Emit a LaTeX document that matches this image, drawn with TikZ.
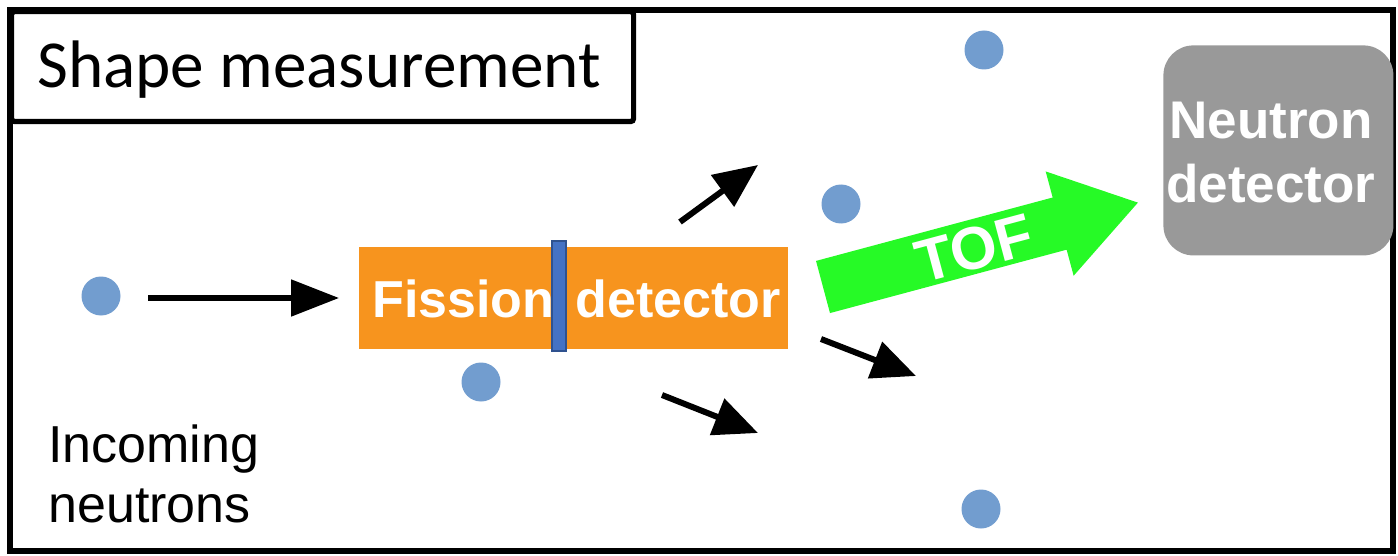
\documentclass[tikz,border=0pt]{standalone}
\usepackage{fontspec}
\setmainfont{Liberation Sans}
\newfontfamily\titlefont{Carlito}
\usetikzlibrary{arrows.meta}
\definecolor{dotblue}{RGB}{114,157,207}
\definecolor{fisorange}{RGB}{247,148,30}
\definecolor{barblue}{RGB}{68,114,196}
\definecolor{baredge}{RGB}{47,82,143}
\definecolor{tofgreen}{RGB}{38,250,38}
\definecolor{detgray}{RGB}{153,153,153}
\begin{document}
\begin{tikzpicture}[x=0.5pt,y=-0.5pt,
  neutron/.style={circle,fill=dotblue,inner sep=0pt,minimum size=19.5pt},
  flyarrow/.style={line width=3pt,-{Triangle[length=22pt,width=19pt]}},
  inarrow/.style={line width=2.6pt,-{Triangle[length=24pt,width=18pt]}},
  whitebold/.style={text=white,font=\bfseries}]
\useasboundingbox (0,0) rectangle (1398,556);

% outer frame and title box
\draw[line width=2.6pt] (10,10) rectangle (1393,551);
\node[draw,line width=2.6pt,rounded corners=1.5pt,fill=white,anchor=north west,
      minimum width=311pt,minimum height=55pt,inner sep=0pt] (title) at (9,9) {};
\node[anchor=base west,inner sep=0pt,font=\titlefont\fontsize{33.6}{40}\selectfont]
  (titletext) at (37,88) {Shape measurement};

% neutrons
\node[neutron] (n1) at (101,296) {};
\node[neutron] (n2) at (984,50) {};
\node[neutron] (n3) at (841,204) {};
\node[neutron] (n4) at (481,382) {};
\node[neutron] (n5) at (981,509) {};

% fission detector with target foil
\node[fill=fisorange,minimum width=214.5pt,minimum height=51pt,inner sep=0pt,
      anchor=north west] (fis) at (359,247) {};
\node[whitebold,anchor=base west,inner sep=0pt,font=\bfseries\fontsize{26}{30}\selectfont]
  (fistext1) at (372,317) {Fission};
\node[whitebold,anchor=base west,inner sep=0pt,font=\bfseries\fontsize{26}{30}\selectfont]
  (fistext2) at (575,317) {detector};
\node[fill=barblue,draw=baredge,line width=1pt,minimum width=7pt,minimum height=55pt,
      inner sep=0pt] (foil) at (559,296) {};

% neutron detector
\node[fill=detgray,rounded corners=15pt,minimum width=115pt,minimum height=105pt,
      inner sep=0pt,anchor=north west] (ndet) at (1163,45) {};
\node[whitebold,align=center,inner sep=0pt,font=\bfseries\fontsize{26.5}{32}\selectfont]
  (ndettext) at (1271,153) {Neutron\\detector};

% incoming label
\node[anchor=base west,inner sep=0pt,align=left,font=\fontsize{26}{30}\selectfont]
  (inlabel) at (48,522) {Incoming\\neutrons};

% incoming beam arrow
\coordinate (inA) at (148,298);
\coordinate (inB) at (339,298);
\draw[inarrow] (inA) -- (inB);

% emitted fission neutrons
\coordinate (f1a) at (680,222);
\coordinate (f1b) at (758,165);
\coordinate (f2a) at (821,339);
\coordinate (f2b) at (916,376);
\coordinate (f3a) at (662,395);
\coordinate (f3b) at (758,433);
\draw[flyarrow] (f1a) -- (f1b);
\draw[flyarrow] (f2a) -- (f2b);
\draw[flyarrow] (f3a) -- (f3b);

% time-of-flight block arrow
\begin{scope}[shift={(823,287)},rotate=15]
  \fill[tofgreen] (0,-27) -- (245,-27) -- (245,-54) -- (326,0) -- (245,54)
    -- (245,27) -- (0,27) -- cycle;
  \node[whitebold,rotate=15,inner sep=0pt,font=\bfseries\fontsize{30}{36}\selectfont]
    (tof) at (156,2) {TOF};
\end{scope}
\end{tikzpicture}
\end{document}
